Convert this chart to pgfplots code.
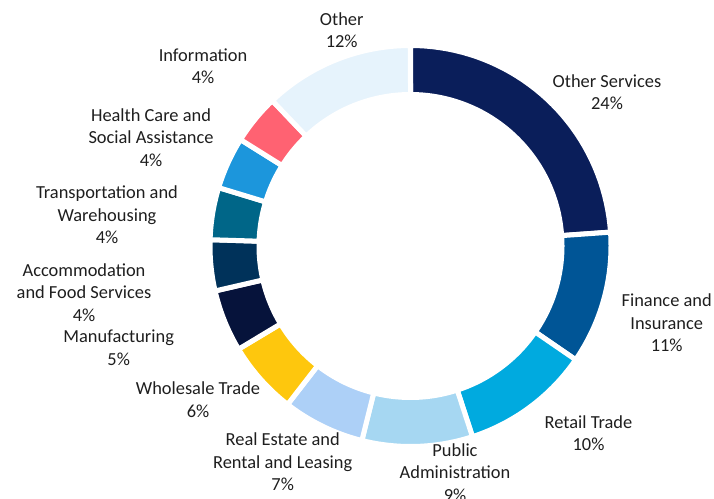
\documentclass[border=0pt]{standalone}
\usepackage{fontspec}
\setmainfont{Carlito}
\usepackage{pgfplots}
\pgfplotsset{compat=1.18}
\definecolor{cOS}{HTML}{0A1E5A}
\definecolor{cFI}{HTML}{005596}
\definecolor{cRT}{HTML}{00AADF}
\definecolor{cPA}{HTML}{A6D7F2}
\definecolor{cRE}{HTML}{ADD0F7}
\definecolor{cWT}{HTML}{FEC70D}
\definecolor{cMF}{HTML}{06133B}
\definecolor{cAF}{HTML}{00325A}
\definecolor{cTW}{HTML}{006688}
\definecolor{cHC}{HTML}{1C96DC}
\definecolor{cIN}{HTML}{FF6272}
\definecolor{cOT}{HTML}{E6F3FC}
\definecolor{txt}{HTML}{1E1E1E}
\newcommand\cum{0}
% #1 = share in percent, #2 = colour
\newcommand\slice[2]{%
 \pgfmathsetmacro\sa{90-3.6*\cum}%
 \pgfmathsetmacro\sb{90-3.6*(\cum+#1)}%
 \pgfmathsetmacro\newcum{\cum+#1}%
 \xdef\cum{\newcum}%
 \edef\tmp{\noexpand\addplot[fill=#2, draw=white, line width=5bp, line join=miter,
   variable=\noexpand\t,
   samples at={0,0.025,...,1,1.00001,1.025,...,2}]
   ({410.5+((\noexpand\t<1.000005)?200.5:151.5)*cos(((\noexpand\t<1.000005)?((\sa)+((\sb)-(\sa))*\noexpand\t):((\sb)-((\sb)-(\sa))*(\noexpand\t-1))))},
    {253+((\noexpand\t<1.000005)?200.5:151.5)*sin(((\noexpand\t<1.000005)?((\sa)+((\sb)-(\sa))*\noexpand\t):((\sb)-((\sb)-(\sa))*(\noexpand\t-1))))}) -- cycle;}%
 \tmp}
\begin{document}
\begin{tikzpicture}
\begin{axis}[width=714bp, height=499bp, scale only axis,
  xmin=0, xmax=714, ymin=0, ymax=499, hide axis, clip=false]
\slice{23.9}{cOS}
\slice{10.7}{cFI}
\slice{10.4}{cRT}
\slice{8.9}{cPA}
\slice{6.6}{cRE}
\slice{5.9}{cWT}
\slice{5.0}{cMF}
\slice{4.1}{cAF}
\slice{4.2}{cTW}
\slice{4.2}{cHC}
\slice{4.0}{cIN}
\slice{12.1}{cOT}
\tikzset{lab/.style={align=center, text=txt, inner sep=0pt,
  font=\fontsize{18.4bp}{22.5bp}\selectfont}}
\node[lab] at (axis cs:341.7,{499-30.0}) {Other\\12\%};
\node[lab] at (axis cs:203,{499-66.3}) {Information\\4\%};
\node[lab] at (axis cs:151,{499-137.3}) {Health Care and\\Social Assistance\\4\%};
\node[lab] at (axis cs:107,{499-214.9}) {Transportation and\\Warehousing\\4\%};
\node[lab] at (axis cs:84,{499-292.4}) {Accommodation\\and Food Services\\4\%};
\node[lab] at (axis cs:118.7,{499-347.5}) {Manufacturing\\5\%};
\node[lab] at (axis cs:198,{499-399.7}) {Wholesale Trade\\6\%};
\node[lab] at (axis cs:282.7,{499-462}) {Real Estate and\\Rental and Leasing\\7\%};
\node[lab] at (axis cs:455,{499-472.6}) {Public\\Administration\\9\%};
\node[lab] at (axis cs:588.5,{499-433.3}) {Retail Trade\\10\%};
\node[lab] at (axis cs:666.7,{499-323.1}) {Finance and\\Insurance\\11\%};
\node[lab] at (axis cs:607,{499-92}) {Other Services\\24\%};
\end{axis}
\pgfresetboundingbox
\path[use as bounding box] (0,0) rectangle (714bp,499bp);
\end{tikzpicture}
\end{document}
